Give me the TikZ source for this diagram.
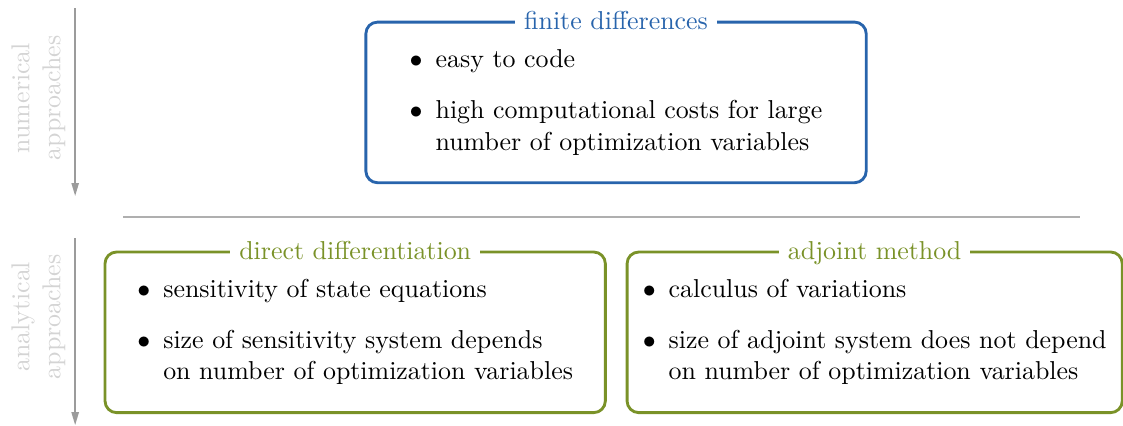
\documentclass[tikz,border=0pt]{standalone}
\usepackage{tikz}
\usetikzlibrary{arrows.meta, positioning}
\usepackage{xcolor}

\definecolor{fdblue}{RGB}{40,100,172}
\definecolor{anolive}{RGB}{122,146,40}
\definecolor{axisgray}{RGB}{155,155,155}
\definecolor{lblgray}{RGB}{212,212,212}
\definecolor{sepgray}{RGB}{175,175,175}

%% bullet list as a two-column tabular, so the node centres it
\newcommand{\bulletlist}[1]{%
  \begin{tabular}{@{}l@{\hspace{5pt}}l@{}}#1\end{tabular}}

\begin{document}
\begin{tikzpicture}[
    method/.style={rectangle, rounded corners=4.5pt, line width=1.1pt,
                   minimum width=6.79cm, minimum height=2.18cm,
                   inner sep=0pt, font=\normalsize},
    numbox/.style={method, draw=fdblue},
    anabox/.style={method, draw=anolive},
    %% depth 0 so titles with descenders sit on the same baseline
    numtitle/.style={fill=white, inner sep=3.5pt, text depth=0pt, text=fdblue},
    anatitle/.style={fill=white, inner sep=3.5pt, text depth=0pt, text=anolive},
    side/.style={rotate=90, align=center, text=lblgray},
    flow/.style={-{Triangle[width=2.8pt, length=5pt]}, line width=0.6pt,
                 axisgray},
    sep/.style={line width=0.6pt, sepgray},
]
  \useasboundingbox (0,0) rectangle (15.24,-5.78);

  %% ---- side axes ----
  \coordinate (numtop) at (1.02,-0.11);
  \coordinate (numbot) at (1.02,-2.66);
  \coordinate (anatop) at (1.02,-3.23);
  \coordinate (anabot) at (1.02,-5.77);
  \draw[flow] (numtop) -- (numbot);
  \draw[flow] (anatop) -- (anabot);
  \node[side] (numlbl) at (0.52,-1.33) {numerical\\approaches};
  \node[side] (analbl) at (0.52,-4.30) {analytical\\approaches};

  %% ---- separator ----
  \coordinate (sepl) at (1.67,-2.945);
  \coordinate (sepr) at (14.66,-2.945);
  \draw[sep] (sepl) -- (sepr);

  %% ---- numerical: finite differences ----
  \node[numbox] (fd) at (8.36,-1.39) {\bulletlist{%
      $\bullet$ & easy to code\\[8pt]
      $\bullet$ & high computational costs for large\\
                & number of optimization variables}};
  \node[numtitle] (fdtitle) at (fd.north) {finite differences};

  %% ---- analytical: direct differentiation / adjoint ----
  \node[anabox] (dd) at (4.82,-4.51) {\bulletlist{%
      $\bullet$ & sensitivity of state equations\\[8pt]
      $\bullet$ & size of sensitivity system depends\\
                & on number of optimization variables}};
  \node[anatitle] (ddtitle) at (dd.north) {direct differentiation};

  \node[anabox, minimum width=6.72cm] (adj) at (11.87,-4.51) {\bulletlist{%
      $\bullet$ & calculus of variations\\[8pt]
      $\bullet$ & size of adjoint system does not depend\\
                & on number of optimization variables}};
  \node[anatitle] (adjtitle) at (adj.north) {adjoint method};

\end{tikzpicture}
\end{document}
